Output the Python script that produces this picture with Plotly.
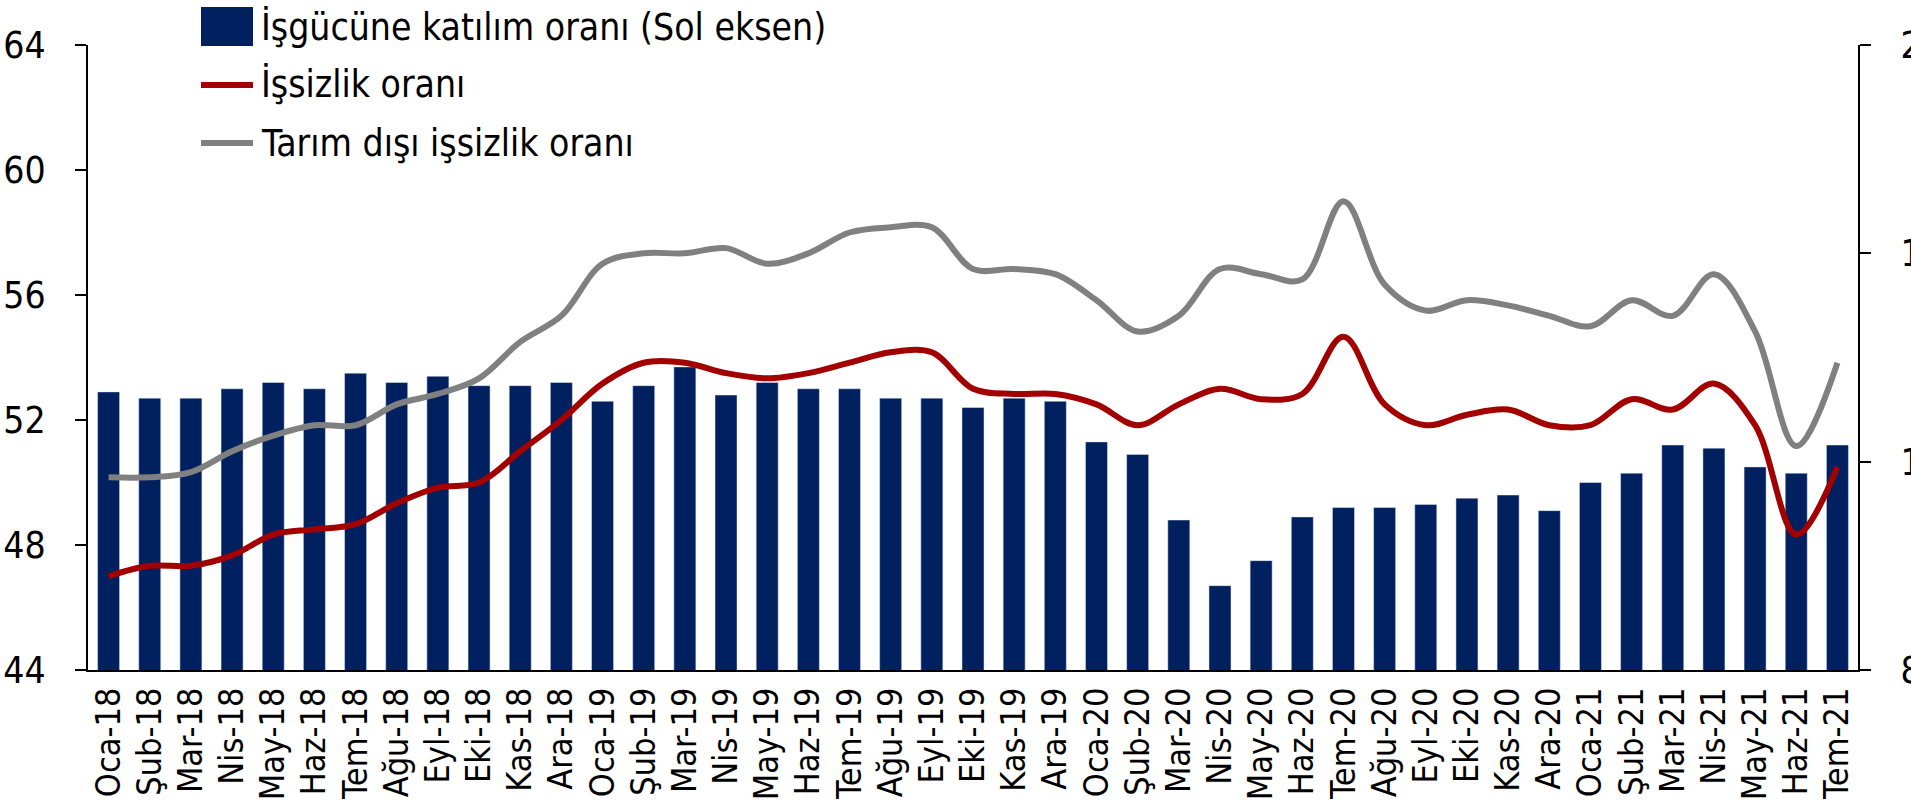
import plotly.graph_objects as go

months = ["Oca-18", "Şub-18", "Mar-18", "Nis-18", "May-18", "Haz-18", "Tem-18", "Ağu-18", "Eyl-18", "Eki-18", "Kas-18", "Ara-18",
          "Oca-19", "Şub-19", "Mar-19", "Nis-19", "May-19", "Haz-19", "Tem-19", "Ağu-19", "Eyl-19", "Eki-19", "Kas-19", "Ara-19",
          "Oca-20", "Şub-20", "Mar-20", "Nis-20", "May-20", "Haz-20", "Tem-20", "Ağu-20", "Eyl-20", "Eki-20", "Kas-20", "Ara-20",
          "Oca-21", "Şub-21", "Mar-21", "Nis-21", "May-21", "Haz-21", "Tem-21"]

participation = [52.9, 52.7, 52.7, 53.0, 53.2, 53.0, 53.5, 53.2, 53.4, 53.1, 53.1, 53.2,
                 52.6, 53.1, 53.7, 52.8, 53.2, 53.0, 53.0, 52.7, 52.7, 52.4, 52.7, 52.6,
                 51.3, 50.9, 48.8, 46.7, 47.5, 48.9, 49.2, 49.2, 49.3, 49.5, 49.6, 49.1,
                 50.0, 50.3, 51.2, 51.1, 50.5, 50.3, 51.2]

unemployment = [9.8, 10.0, 10.0, 10.2, 10.6, 10.7, 10.8, 11.2, 11.5, 11.6, 12.2, 12.8,
                13.5, 13.9, 13.9, 13.7, 13.6, 13.7, 13.9, 14.1, 14.1, 13.4, 13.3, 13.3,
                13.1, 12.7, 13.1, 13.4, 13.2, 13.3, 14.4, 13.1, 12.7, 12.9, 13.0, 12.7,
                12.7, 13.2, 13.0, 13.5, 12.7, 10.6, 11.9]

nonfarm = [11.7, 11.7, 11.8, 12.2, 12.5, 12.7, 12.7, 13.1, 13.3, 13.6, 14.3, 14.8,
           15.8, 16.0, 16.0, 16.1, 15.8, 16.0, 16.4, 16.5, 16.5, 15.7, 15.7, 15.6,
           15.1, 14.5, 14.8, 15.7, 15.6, 15.5, 17.0, 15.4, 14.9, 15.1, 15.0, 14.8,
           14.6, 15.1, 14.8, 15.6, 14.5, 12.3, 13.9]

legend_labels = ["İşgücüne katılım oranı (Sol eksen)", "İşsizlik oranı", "Tarım dışı işsizlik oranı"]

NAVY = "#00205F"
RED = "#A30000"
GREY = "#808080"
FONT = "DejaVu Sans Condensed, DejaVu Sans, sans-serif"
FS = 37
FSX = 34

fig = go.Figure()
fig.add_trace(go.Bar(x=months, y=participation, marker_color=NAVY, name=legend_labels[0],
                     yaxis="y", showlegend=False))
fig.add_trace(go.Scatter(x=months, y=unemployment, mode="lines", line=dict(color=RED, width=6, shape="spline", smoothing=1),
                         name=legend_labels[1], yaxis="y2", showlegend=False))
fig.add_trace(go.Scatter(x=months, y=nonfarm, mode="lines", line=dict(color=GREY, width=6, shape="spline", smoothing=1),
                         name=legend_labels[2], yaxis="y2", showlegend=False))

# manual legend (paper pixel layout)
W, H = 1911, 809
ml, mr, mt, mb = 88, 53, 45, 139
pw, ph = W - ml - mr, H - mt - mb

def px(x):
    return (x - ml) / pw

def py(y):
    return (H - mb - y) / ph

shapes = [
    dict(type="rect", xref="paper", yref="paper", x0=px(201), x1=px(253), y0=py(46), y1=py(7),
         fillcolor=NAVY, line=dict(width=0)),
    dict(type="line", xref="paper", yref="paper", x0=px(201), x1=px(253), y0=py(85), y1=py(85),
         line=dict(color=RED, width=6)),
    dict(type="line", xref="paper", yref="paper", x0=px(201), x1=px(253), y0=py(143), y1=py(143),
         line=dict(color=GREY, width=6)),
]
annotations = []
for lbl, yc in zip(legend_labels, [27, 85, 143]):
    annotations.append(dict(xref="paper", yref="paper", x=px(259), y=py(yc), text=lbl, showarrow=False,
                            xanchor="left", yanchor="middle", font=dict(size=FS, color="black", family=FONT)))

fig.update_layout(
    width=W, height=H,
    margin=dict(l=ml, r=mr, t=mt, b=mb, pad=0, autoexpand=False),
    paper_bgcolor="white", plot_bgcolor="white",
    font=dict(family=FONT, size=FS, color="black"),
    bargap=0.465,
    showlegend=False,
    shapes=shapes,
    annotations=annotations,
    xaxis=dict(type="category", tickmode="linear", dtick=1, tickangle=-90, showline=True, linecolor="black",
               linewidth=2, ticks="", showgrid=False, tickfont=dict(size=FSX), ticklabelstandoff=2,
               automargin=False),
    yaxis=dict(range=[44, 64], dtick=4, tick0=44, showline=True, linecolor="black", linewidth=2,
               ticks="outside", ticklen=11, tickwidth=2, tickcolor="black", showgrid=False, zeroline=False,
               ticklabelstandoff=22, tickfont=dict(size=FS), automargin=False),
    yaxis2=dict(range=[8, 20], dtick=4, tick0=8, overlaying="y", side="right", showline=True,
                linecolor="black", linewidth=2, ticks="outside", ticklen=11, tickwidth=2, tickcolor="black",
                showgrid=False, zeroline=False, ticklabelstandoff=22, tickfont=dict(size=FS), automargin=False),
)

fig.write_html("out.html", config={"displayModeBar": False},
               post_script="document.body.style.margin='0';document.body.style.overflow='hidden';")
